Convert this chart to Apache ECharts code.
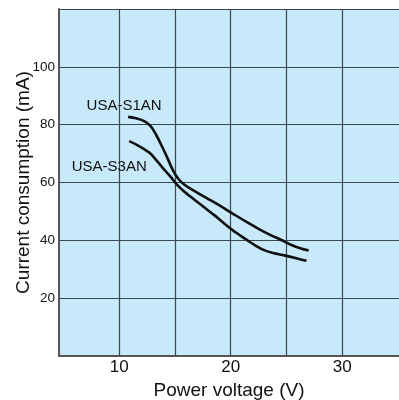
<!DOCTYPE html>
<html>
<head>
<meta charset="utf-8">
<script src="https://cdn.jsdelivr.net/npm/echarts@6/dist/echarts.min.js"></script>
<style>
  html, body { margin: 0; padding: 0; background: #fff; }
  #chart { width: 399px; height: 400px; }
</style>
</head>
<body>
<div id="chart"></div>
<script>
// values
const s1Volt = [10.8, 11.5, 12.2, 12.8, 13.3, 13.8, 14.3, 14.8, 15.3, 15.8, 16.5, 17.5, 18.5, 19.5, 20.5, 21.5, 22.5, 23.5, 24.5, 25.5, 26.3, 27.0];
const s1Curr = [82.7, 82.2, 81.3, 79.6, 76.6, 72.8, 68.7, 64.4, 61.3, 59.4, 57.6, 55.4, 53.2, 50.9, 48.5, 46.2, 44.0, 42.0, 40.2, 38.3, 37.2, 36.5];
const s3Volt = [10.9, 11.5, 12.2, 12.8, 13.4, 14.0, 14.6, 15.2, 15.8, 16.5, 17.5, 18.5, 19.5, 20.5, 21.5, 22.3, 23.0, 23.8, 24.8, 25.8, 26.8];
const s3Curr = [74.3, 73.2, 71.6, 70.0, 67.4, 64.6, 62.0, 59.2, 57.0, 54.8, 51.8, 48.8, 45.6, 42.6, 40.0, 38.0, 36.6, 35.6, 34.8, 33.9, 32.9];
const seriesNames = ['USA-S1AN', 'USA-S3AN'];
const xGridTicks = [10, 15, 20, 25, 30];
const xTickLabels = [10, 20, 30];
const yGridTicks = [20, 40, 60, 80, 100, 120];
const yTickLabels = [20, 40, 60, 80, 100];

const font = 'Liberation Sans, Arial, Helvetica, sans-serif';

function pairs(xs, ys) {
    return xs.map((x, i) => [x, ys[i]]);
}

function curve(name, xs, ys, labelOpts) {
    return {
        name: name,
        type: 'line',
        smooth: 0.3,
        symbol: 'circle',
        symbolSize: 0,
        showSymbol: true,
        silent: true,
        lineStyle: { color: '#111', width: 2.6 },
        itemStyle: { color: '#111' },
        label: Object.assign({
            show: true,
            color: '#111',
            fontFamily: font,
            fontSize: 15,
            formatter: p => p.dataIndex === 0 ? name : ''
        }, labelOpts),
        data: pairs(xs, ys)
    };
}

let myChart = echarts.init(document.getElementById('chart'));
let options = {
    animation: false,
    grid: {
        left: 59,
        right: 0,
        top: 9,
        bottom: 44,
        outerBoundsMode: 'none',
        containLabel: false,
        show: true,
        backgroundColor: '#c8e9f9',
        borderWidth: 0
    },
    xAxis: {
        type: 'value',
        min: 4.6,
        max: 35.1,
        name: 'Power voltage (V)',
        nameLocation: 'middle',
        nameGap: 25,
        nameMoveOverlap: false,
        nameTextStyle: { color: '#111', fontSize: 19, fontFamily: font },
        axisLine: { show: true, lineStyle: { color: '#555', width: 2 } },
        axisTick: { show: false, customValues: xGridTicks },
        axisLabel: {
            customValues: xTickLabels,
            margin: 3,
            color: '#111',
            fontSize: 17,
            fontFamily: font
        },
        splitLine: { show: true, lineStyle: { color: '#3a4850', width: 1.2 } }
    },
    yAxis: {
        type: 'value',
        min: 0,
        max: 120,
        interval: 20,
        name: 'Current consumption (mA)',
        nameLocation: 'middle',
        nameGap: 26,
        nameMoveOverlap: false,
        nameTextStyle: { color: '#111', fontSize: 19, fontFamily: font },
        axisLine: { show: true, lineStyle: { color: '#555', width: 2 } },
        axisTick: { show: false, customValues: yGridTicks },
        axisLabel: {
            customValues: yTickLabels,
            margin: 4,
            color: '#111',
            fontSize: 13.5,
            fontFamily: font
        },
        splitLine: { show: true, lineStyle: { color: '#3a4850', width: 1.2 } }
    },
    series: [
        curve(seriesNames[0], s1Volt, s1Curr, { position: 'top', distance: 3, offset: [-4, 0] }),
        curve(seriesNames[1], s3Volt, s3Curr, { position: 'bottom', distance: 18, offset: [-20, 0] })
    ]
};
myChart.setOption(options);
</script>
</body>
</html>
